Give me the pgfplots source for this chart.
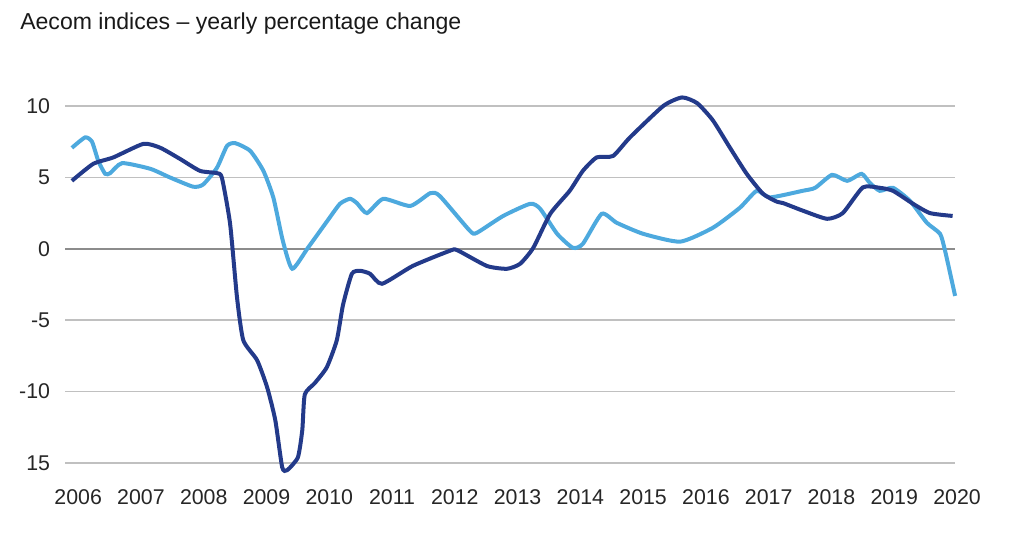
\documentclass[border=0pt]{standalone}
\usepackage{fontspec}
\setmainfont{Liberation Sans}
\usepackage{pgfplots}
\pgfplotsset{compat=1.18}
\definecolor{navy}{RGB}{35,58,138}
\definecolor{sky}{RGB}{77,169,222}
\definecolor{gridc}{RGB}{192,192,192}
\definecolor{zeroc}{RGB}{140,140,140}
\begin{document}
\begin{tikzpicture}
\useasboundingbox (-48.75pt,-54.75pt) rectangle (719.25pt,347.25pt);
\begin{axis}[
  at={(0,0)}, anchor=south west,
  scale only axis, width=669pt, height=267.75pt,
  xmin=2005.79, xmax=2020, ymin=-15, ymax=10,
  clip=false, axis line style={draw=none},
  ytick={-15,-10,-5,0,5,10},
  yticklabels={15,-10,-5,0,5,10},
  xtick={2006,2007,2008,2009,2010,2011,2012,2013,2014,2015,2016,2017,2018,2019,2020},
  xticklabels={2006,2007,2008,2009,2010,2011,2012,2013,2014,2015,2016,2017,2018,2019,2020},
  /pgf/number format/assume math mode=true,
  tick label style={font=\fontsize{16}{18}\selectfont, text=black!85},
  yticklabel style={anchor=east, inner sep=0pt, xshift=-11pt},
  xticklabel style={anchor=north, inner sep=0pt, yshift=-20pt},
  major tick length=0pt, tick style={draw=none},
]
\foreach \yy in {-15,-10,-5,5,10} {
  \edef\tmp{\noexpand\draw[gridc, line width=1.1pt] (axis cs:2005.79,\yy) -- (axis cs:2019.97,\yy);}
  \tmp
}
\draw[zeroc, line width=1.1pt] (axis cs:2005.79,0) -- (axis cs:2019.97,0);

\addplot[sky, line width=3pt, smooth, tension=0.35] coordinates {
(2005.90,7.07) (2006.11,7.8) (2006.22,7.5) (2006.32,6.16) (2006.43,5.25) (2006.51,5.3)
(2006.70,6.0) (2007.15,5.6) (2007.46,5.0) (2007.83,4.35) (2007.99,4.5) (2008.21,5.67)
(2008.37,7.2) (2008.50,7.4) (2008.74,6.86) (2008.95,5.46) (2009.11,3.57) (2009.26,0.56)
(2009.41,-1.4) (2009.66,0.07) (2009.97,1.96) (2010.17,3.15) (2010.33,3.5) (2010.44,3.2)
(2010.60,2.5) (2010.86,3.5) (2011.29,3.0) (2011.61,3.9) (2011.76,3.7) (2012.24,1.26)
(2012.35,1.12) (2012.77,2.3) (2013.20,3.15) (2013.36,2.8) (2013.63,1.05) (2013.88,0.07)
(2014.04,0.35) (2014.34,2.45) (2014.58,1.82) (2015.0,1.05) (2015.59,0.5) (2016.11,1.47)
(2016.54,2.87) (2016.81,4.06) (2017.02,3.6) (2017.54,4.06) (2017.74,4.27) (2018.01,5.18)
(2018.25,4.76) (2018.48,5.25) (2018.61,4.62) (2018.77,4.06) (2018.98,4.27) (2019.25,3.36)
(2019.52,1.82) (2019.73,1.05) (2019.81,-0.14) (2019.97,-3.3)
};
\addplot[navy, line width=3pt, smooth, tension=0.35] coordinates {
(2005.90,4.76) (2006.24,5.95) (2006.56,6.4) (2007.04,7.35) (2007.31,7.07) (2007.62,6.3)
(2007.94,5.46) (2008.21,5.3) (2008.29,4.97) (2008.42,1.75) (2008.53,-3.4) (2008.63,-6.4)
(2008.85,-7.8) (2009.01,-9.7) (2009.14,-12) (2009.25,-15.3) (2009.33,-15.5) (2009.50,-14.6)
(2009.57,-12.7) (2009.61,-10.2) (2009.77,-9.4) (2009.96,-8.3) (2010.12,-6.4) (2010.22,-3.9)
(2010.36,-1.75) (2010.49,-1.54) (2010.65,-1.75) (2010.84,-2.45) (2011.33,-1.2) (2011.92,-0.14)
(2012.04,-0.1) (2012.51,-1.2) (2012.83,-1.4) (2013.04,-1.05) (2013.25,0.07) (2013.52,2.45)
(2013.83,4.06) (2014.04,5.46) (2014.26,6.4) (2014.52,6.5) (2014.79,7.8) (2015.32,10.0)
(2015.62,10.6) (2015.86,10.2) (2016.11,9.0) (2016.38,7.1) (2016.65,5.25) (2016.91,3.85)
(2017.13,3.3) (2017.23,3.2) (2017.55,2.66) (2017.93,2.1) (2018.18,2.5) (2018.50,4.3)
(2018.77,4.27) (2018.98,4.06) (2019.30,3.15) (2019.57,2.5) (2019.93,2.3)
};
\node[anchor=base west, inner sep=0pt, font=\fontsize{17.3}{19}\selectfont, text=black!90]
  at (axis cs:2005.79,10) [xshift=-33.75pt, yshift=57pt] {Aecom indices -- yearly percentage change};
\end{axis}
\end{tikzpicture}
\end{document}
